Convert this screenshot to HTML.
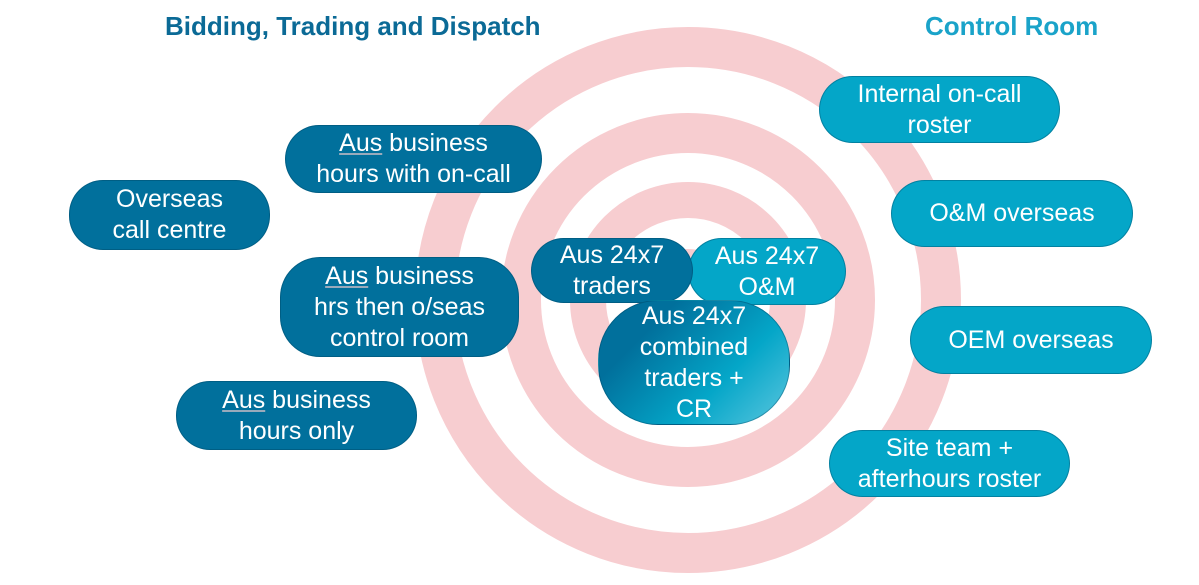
<!DOCTYPE html>
<html><head><style>
body{margin:0;width:1199px;height:585px;background:#fff;position:relative;overflow:hidden;font-family:"Liberation Sans",sans-serif}
.t{position:absolute;font-weight:bold;font-size:26px;top:11px}
.b{position:absolute;border-radius:34px;color:#fff;font-size:25px;line-height:31px;text-align:center;display:flex;align-items:center;justify-content:center;box-sizing:border-box;border:1.5px solid rgba(0,60,90,.35);white-space:nowrap}
.d{background:#01709c}
.l{background:#04a6c8}
u{text-decoration-color:#9ab;}
</style></head><body>
<svg width="1199" height="585" style="position:absolute;left:0;top:0">
<g fill="none" stroke="#f7cdd0">
<circle cx="688" cy="300" r="253" stroke-width="40"/>
<circle cx="688" cy="300" r="167" stroke-width="40"/>
<circle cx="688" cy="300" r="100" stroke-width="36"/>
<circle cx="688" cy="300" r="40" stroke-width="22"/>
</g></svg>
<div class="t" style="left:165px;color:#0b6a96">Bidding, Trading and Dispatch</div>
<div class="t" style="left:925px;color:#1aa3c9">Control Room</div>
<div class="b d" style="left:69px;top:180px;width:201px;height:70px">Overseas<br>call centre</div>
<div class="b d" style="left:285px;top:125px;width:257px;height:68px"><span><u>Aus</u> business<br>hours with on-call</span></div>
<div class="b d" style="left:280px;top:257px;width:239px;height:100px;border-radius:40px"><span><u>Aus</u> business<br>hrs then o/seas<br>control room</span></div>
<div class="b d" style="left:176px;top:381px;width:241px;height:69px"><span><u>Aus</u> business<br>hours only</span></div>
<div class="b l" style="left:688px;top:238px;width:158px;height:67px">Aus 24x7<br>O&amp;M</div>
<div class="b d" style="left:531px;top:238px;width:162px;height:65px">Aus 24x7<br>traders</div>
<div class="b" style="left:598px;top:300px;width:192px;height:125px;border-radius:60px;background:linear-gradient(135deg,#01709c 25%,#04a6c8 65%,#5bc6de 100%)">Aus 24x7<br>combined<br>traders +<br>CR</div>
<div class="b l" style="left:819px;top:76px;width:241px;height:67px">Internal on-call<br>roster</div>
<div class="b l" style="left:891px;top:180px;width:242px;height:67px">O&amp;M overseas</div>
<div class="b l" style="left:910px;top:306px;width:242px;height:68px">OEM overseas</div>
<div class="b l" style="left:829px;top:430px;width:241px;height:67px">Site team +<br>afterhours roster</div>
</body></html>
